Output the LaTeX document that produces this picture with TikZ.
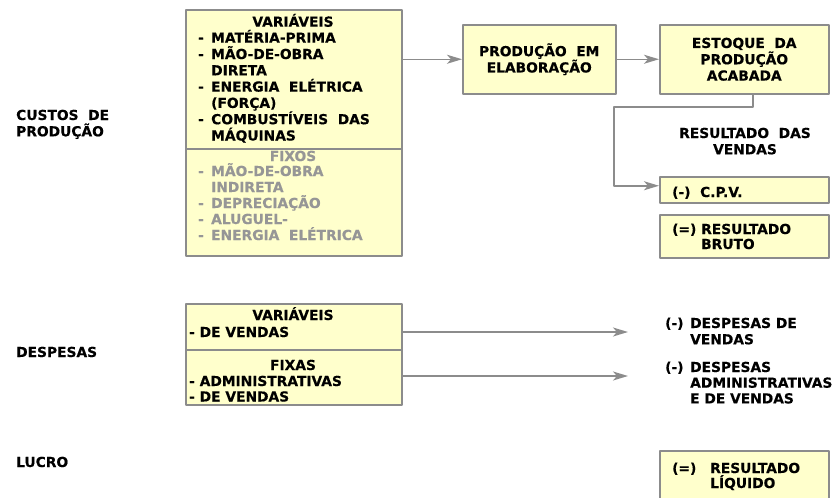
\documentclass[tikz,border=0pt]{standalone}
\usepackage{fontspec}
\setmainfont{DejaVu Sans}[BoldFeatures={FakeBold=0.4}]
\usetikzlibrary{arrows.meta}
\definecolor{boxfill}{RGB}{255,255,204}
\definecolor{boxline}{RGB}{140,140,140}
\definecolor{fixgray}{RGB}{150,150,150}
\newcommand{\itm}{\makebox[13pt][l]{-}}
\newcommand{\hng}{\hspace*{13pt}}
\begin{document}
\begin{tikzpicture}[x=1pt,y=-1pt,line join=bevel,
  txt/.style={inner sep=0pt,align=left,font=\bfseries\fontsize{13.8}{16.3}\selectfont},
  ctxt/.style={txt,align=center},
  box/.style={draw=boxline,fill=boxfill,line width=1.5pt,inner sep=0pt,anchor=north west,
    align=center,font=\bfseries\fontsize{13.8}{16.3}\selectfont},
  conn/.style={draw=boxline,line width=1.5pt,-{Stealth[length=15pt,width=9pt,inset=4pt]}},
]
\useasboundingbox (0,0) rectangle (836,498);
\clip (0,0) rectangle (836,498);
%%
  % Node: left labels (base = last line)
  \node[txt,anchor=base west] (custos) at (16,136.3) {CUSTOS~ DE\\PRODUÇÃO};
  \node[txt,anchor=base west] (despesas) at (16,357) {DESPESAS};
  \node[txt,anchor=base west] (lucro) at (16,467) {LUCRO};
  % Node: varbox
  \node[box,minimum width=216pt,minimum height=139pt] (varbox) at (185,9) {};
  \node[ctxt,anchor=base] (varhead) at (293,26.7) {VARIÁVEIS};
  \node[txt,anchor=base west] (varlist) at (198,140.5) {\itm MATÉRIA-PRIMA\\\itm MÃO-DE-OBRA\\\hng DIRETA\\
    \itm ENERGIA~ ELÉTRICA\\\hng (FORÇA)\\\itm COMBUSTÍVEIS~ DAS\\\hng MÁQUINAS};
  % Node: fixbox
  \node[box,minimum width=216pt,minimum height=107pt] (fixbox) at (185,148) {};
  \node[ctxt,anchor=base,text=fixgray] (fixhead) at (293,161) {FIXOS};
  \node[txt,anchor=base west,text=fixgray,font=\bfseries\fontsize{13.8}{16}\selectfont] (fixlist) at (198,240)
    {\itm MÃO-DE-OBRA\\\hng INDIRETA\\\itm DEPRECIAÇÃO\\\itm ALUGUEL-\\\itm ENERGIA~ ELÉTRICA};
  % Node: prodbox
  \node[box,minimum width=153pt,minimum height=69pt] (prodbox) at (462,24) {PRODUÇÃO~ EM\\ELABORAÇÃO};
  % Node: estbox
  \node[box,minimum width=169pt,minimum height=69pt] (estbox) at (659,24) {ESTOQUE~ DA\\PRODUÇÃO\\ACABADA};
  \node[ctxt,anchor=base] (vendas) at (745,154.3) {RESULTADO~ DAS\\VENDAS};
  % Node: cpvbox
  \node[box,minimum width=169pt,minimum height=26pt] (cpvbox) at (659,176) {};
  \node[txt,anchor=base west] (cpvtxt) at (672,197) {(-)~ C.P.V.};
  % Node: brutobox
  \node[box,minimum width=169pt,minimum height=43pt] (brutobox) at (659,214) {};
  \node[txt,anchor=base west,font=\bfseries\fontsize{13.8}{15}\selectfont] (brutotxt) at (672,249)
    {(=) RESULTADO\\\phantom{(=) }BRUTO};
  % Node: dvbox
  \node[box,minimum width=216pt,minimum height=46pt] (dvbox) at (185,303) {};
  \node[ctxt,anchor=base] (dvhead) at (293,320) {VARIÁVEIS};
  \node[txt,anchor=base west] (dvlist) at (189,337) {- DE VENDAS};
  % Node: dfbox
  \node[box,minimum width=216pt,minimum height=55pt] (dfbox) at (185,349) {};
  \node[ctxt,anchor=base] (dfhead) at (293,370) {FIXAS};
  \node[txt,anchor=base west,font=\bfseries\fontsize{13.8}{15.5}\selectfont] (dflist) at (189,401.5)
    {- ADMINISTRATIVAS\\- DE VENDAS};
  % Node: despesas results
  \coordinate (dvtip) at (628,332);
  \coordinate (dftip) at (628,376);
  \node[txt,anchor=base west] (dvres) at (665,344.3) {\makebox[25pt][l]{(-)}DESPESAS DE\\\hspace*{25pt}VENDAS};
  \node[txt,anchor=base west,font=\bfseries\fontsize{13.8}{15.7}\selectfont] (dfres) at (665,403.4)
    {\makebox[25pt][l]{(-)}DESPESAS\\\hspace*{25pt}ADMINISTRATIVAS\\\hspace*{25pt}E DE VENDAS};
  % Node: liqbox
  \node[box,minimum width=169pt,minimum height=60pt] (liqbox) at (659,450) {};
  \node[txt,anchor=base west,font=\bfseries\fontsize{13.8}{15}\selectfont] (liqtxt) at (672,488)
    {\makebox[38pt][l]{(=)}RESULTADO\\\hspace*{38pt}LÍQUIDO};
  % Edge: varbox -> prodbox
  \draw[conn] (varbox.east |- prodbox.west) -- (prodbox.west);
  % Edge: prodbox -> estbox
  \draw[conn] (prodbox) -- (estbox);
  % Edge: estbox -> cpvbox
  \coordinate (bend) at (614,107);
  \draw[conn] ([xshift=8.5pt]estbox.south) |- (bend) |- ([yshift=4pt]cpvbox.west);
  % Edge: dvbox -> dvres
  \draw[conn] (dvbox.east |- dvtip) -- (dvtip);
  % Edge: dfbox -> dfres
  \draw[conn] (dfbox.east |- dftip) -- (dftip);
%
\end{tikzpicture}
\end{document}
